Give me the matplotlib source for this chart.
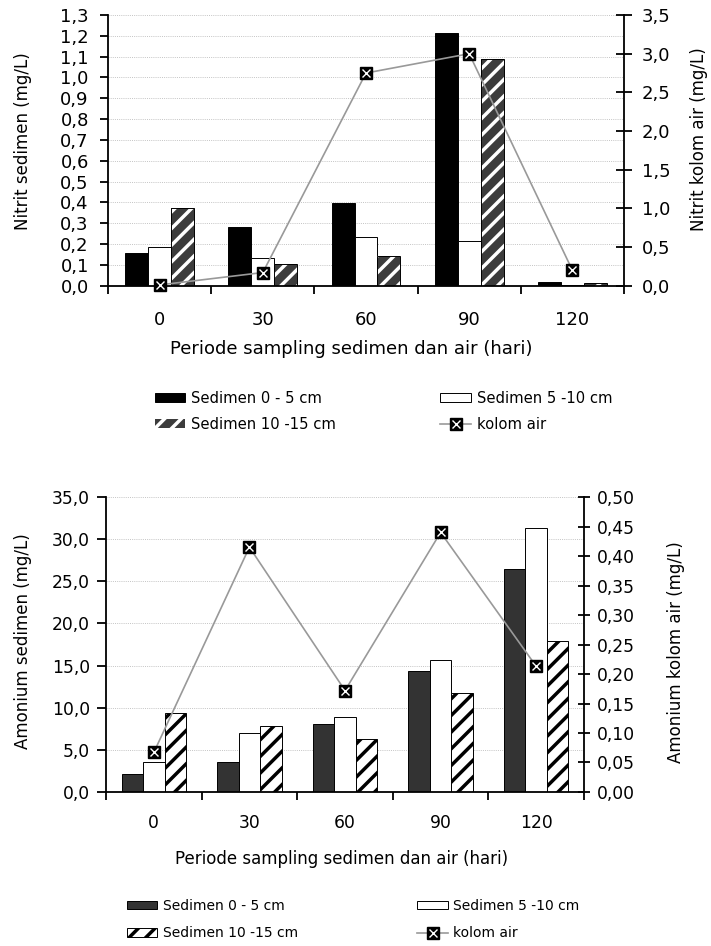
import numpy as np
import matplotlib
matplotlib.use('Agg')
import matplotlib.pyplot as plt

plt.rcParams['font.family'] = ['DejaVu Sans']
plt.rcParams['hatch.linewidth'] = 2.5

# data
hari = ['0', '30', '60', '90', '120']

nitrit_0_5 = [0.155, 0.283, 0.395, 1.216, 0.019]
nitrit_5_10 = [0.187, 0.131, 0.232, 0.213, 0.004]
nitrit_10_15 = [0.371, 0.104, 0.144, 1.09, 0.011]
nitrit_air = [0.01, 0.17, 2.75, 3.0, 0.2]

amon_0_5 = [2.1, 3.5, 8.1, 14.4, 26.5]
amon_5_10 = [3.55, 6.95, 8.95, 15.7, 31.3]
amon_10_15 = [9.35, 7.85, 6.25, 11.8, 17.95]
amon_air = [0.067, 0.415, 0.172, 0.44, 0.213]

nitrit_ticks = np.round(np.arange(0, 1.31, 0.1), 2)
nitrit_air_ticks = np.round(np.arange(0, 3.51, 0.5), 2)
amon_ticks = np.arange(0, 35.1, 5)
amon_air_ticks = np.round(np.arange(0, 0.501, 0.05), 3)

label_x = 'Periode sampling sedimen dan air (hari)'
names = ['Sedimen 0 - 5 cm', 'Sedimen 5 -10 cm', 'Sedimen 10 -15 cm', 'kolom air']


def comma(vals, nd):
    return [f'{v:.{nd}f}'.replace('.', ',') for v in vals]


def make_panel(rect, s1, s2, s3, air, lticks, rticks, lnd, rnd, ylab, ylab2,
               dark, hatch_dark, w, fs, cfg):
    ax = fig.add_axes(rect)
    x = np.arange(len(hari))
    b1 = ax.bar(x - w, s1, w, color=dark, edgecolor='black', lw=0.7)
    b2 = ax.bar(x, s2, w, color='white', edgecolor='black', lw=0.7)
    if hatch_dark:
        # white stripes on dark grey, black outline drawn on top
        ax.bar(x + w, s3, w, color='#3c3c3c', edgecolor='white', hatch='//', lw=0)
        ax.bar(x + w, s3, w, fill=False, edgecolor='black', lw=0.7)
        b3 = plt.Rectangle((0, 0), 1, 1, facecolor='#3c3c3c', edgecolor='white', hatch='//', lw=0)
    else:
        b3 = ax.bar(x + w, s3, w, color='white', edgecolor='black', hatch='//', lw=0.7)

    ax.set_xlim(-0.5, len(hari) - 0.5)
    ax.set_ylim(lticks[0], lticks[-1])
    ax.set_yticks(lticks)
    ax.set_yticklabels(comma(lticks, lnd), fontsize=fs)
    ax.set_xticks(np.arange(-0.5, len(hari), 1))
    ax.set_xticklabels([])
    ax.set_xticks(x, minor=True)
    ax.set_xticklabels(hari, minor=True, fontsize=fs)
    ax.tick_params(axis='x', which='major', direction='out', length=5.5, width=1.3)
    ax.tick_params(axis='x', which='minor', length=0, pad=cfg['xpad'])
    ax.tick_params(axis='y', direction='out', length=cfg['llen'], width=1.3, pad=cfg['lpad'])
    ax.yaxis.grid(True, linestyle=(0, (1, 1.2)), color='#c4c4c4', lw=0.7)
    ax.set_axisbelow(True)
    for s in ['top', 'right']:
        ax.spines[s].set_visible(False)
    ax.spines['left'].set_linewidth(1.3)
    ax.spines['bottom'].set_linewidth(1.3)

    ax.set_xlabel(label_x, fontsize=cfg['xlfs'])
    ax.xaxis.set_label_coords(cfg['xlx'], cfg['xly'])
    ax.set_ylabel(ylab, fontsize=cfg['ylfs'])
    ax.yaxis.set_label_coords(cfg['ylx'], cfg['yly'])

    ax2 = ax.twinx()
    ln, = ax2.plot(x, air, color='#999999', lw=1.2, marker='s', ms=8.5,
                   mfc='black', mec='black', clip_on=False, zorder=3)
    mk, = ax2.plot(x, air, ls='none', marker='x', ms=6, mec='white', mew=1,
                   clip_on=False, zorder=4)
    ax2.set_ylim(rticks[0], rticks[-1])
    ax2.set_yticks(rticks)
    ax2.set_yticklabels(comma(rticks, rnd), fontsize=fs)
    ax2.tick_params(axis='y', direction='inout', length=cfg['rlen'], width=1.3, pad=cfg['rpad'])
    for s in ['top', 'left', 'bottom']:
        ax2.spines[s].set_visible(False)
    ax2.spines['right'].set_linewidth(1.3)
    ax2.set_ylabel(ylab2, fontsize=cfg['ylfs'])
    ax2.yaxis.set_label_coords(cfg['ylx2'], cfg['yly2'])

    lg_h = [b1, b3, b2, (ln, mk)]
    lg_l = [names[0], names[2], names[1], names[3]]
    ax.legend(lg_h, lg_l, ncol=2, loc='upper left', frameon=False,
              bbox_to_anchor=cfg['leg'], bbox_transform=fig.transFigure,
              fontsize=cfg['legfs'], handlelength=cfg['hl'], handleheight=0.55,
              handletextpad=0.4, columnspacing=cfg['cs'], labelspacing=cfg['ls'],
              borderpad=0, borderaxespad=0, numpoints=1)
    return ax, ax2


fig = plt.figure(figsize=(7.11, 9.46), dpi=100)

top_cfg = dict(xpad=18, llen=5.8, lpad=8, rlen=11.3, rpad=7.3, xlfs=13, ylfs=12,
               xlx=0.472, xly=-0.202, ylx=-0.147, yly=0.5345, ylx2=1.128, yly2=0.542,
               leg=(0.218, 0.5872), legfs=10.6, hl=2.05, cs=7.1, ls=0.75)
make_panel([0.1519, 0.6980, 0.7257, 0.2861], nitrit_0_5, nitrit_5_10, nitrit_10_15,
           nitrit_air, nitrit_ticks, nitrit_air_ticks, 1, 1,
           'Nitrit sedimen (mg/L)', 'Nitrit kolom air (mg/L)',
           'black', True, 0.222, 13, top_cfg)

bot_cfg = dict(xpad=15.5, llen=6.5, lpad=5, rlen=8.9, rpad=4.9, xlfs=12, ylfs=12,
               xlx=0.493, xly=-0.195, ylx=-0.155, yly=0.512, ylx2=1.174, yly2=0.473,
               leg=(0.178, 0.0501), legfs=10, hl=2.2, cs=8.6, ls=1.0)
make_panel([0.1491, 0.1628, 0.6723, 0.3118], amon_0_5, amon_5_10, amon_10_15,
           amon_air, amon_ticks, amon_air_ticks, 1, 2,
           'Amonium sedimen (mg/L)', 'Amonium kolom air (mg/L)',
           '#333333', False, 0.225, 12.3, bot_cfg)

fig.savefig('out.png', dpi=100)
